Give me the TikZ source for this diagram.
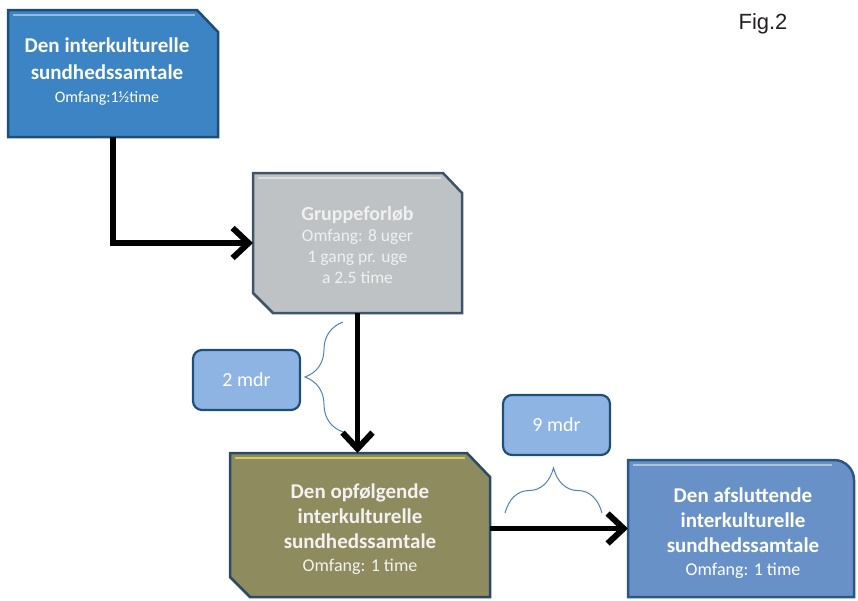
\documentclass[tikz,border=0pt]{standalone}
\usepackage{fontspec}
\setmainfont{Carlito}
\newfontfamily\figfont{Liberation Sans}
\usetikzlibrary{arrows.meta,decorations.pathreplacing}
\definecolor{cAfill}{HTML}{3C84C4}
\definecolor{cAedge}{HTML}{1E4D78}
\definecolor{cBfill}{HTML}{BEC2C4}
\definecolor{cBedge}{HTML}{3D5566}
\definecolor{cCfill}{HTML}{8E8B5E}
\definecolor{cCedge}{HTML}{2C4A66}
\definecolor{cDfill}{HTML}{6892C7}
\definecolor{cDedge}{HTML}{2B5686}
\definecolor{mfill}{HTML}{8DB4E2}
\definecolor{medge}{HTML}{1F4E79}
\definecolor{bracecol}{HTML}{4F81BD}
\definecolor{figcol}{HTML}{231F20}
\newcommand{\smlA}{\fontsize{16}{18}\selectfont\mdseries}
\newcommand{\smlB}{\fontsize{17.5}{21}\selectfont\mdseries}
\newcommand{\smlC}{\fontsize{18}{21}\selectfont\mdseries}
\begin{document}
\begin{tikzpicture}[x=1pt,y=-1pt,
  boxnode/.style={inner sep=0pt, outer sep=0pt, minimum width=#1},
  edge/.style={line width=2.5pt, line join=miter},
  hl/.style={white, opacity=0.45, line width=1.5pt},
  txt/.style={align=center, inner sep=0pt},
  arr/.style={line width=5.5pt, -{Straight Barb[length=16pt, width=30pt, line width=6pt]}},
  bracestyle/.style={bracecol, line width=1pt, decorate, decoration={brace, amplitude=#1}},
  mbox/.style={rounded corners=9pt, fill=mfill, draw=medge, line width=2.2pt, minimum width=107pt, minimum height=60pt, inner sep=0pt, text=white, font=\fontsize{20}{24}\selectfont}
]
\useasboundingbox (0,0) rectangle (858,600);

% box 1
\fill[cAfill] (8,10) -- (197,10) -- (218,32) -- (218,137) -- (8,137) -- cycle;
\draw[hl] (13,15) -- (195,15);
\draw[cAedge, edge] (8,10) -- (197,10) -- (218,32) -- (218,137) -- (8,137) -- cycle;
\node[boxnode=210pt, minimum height=127pt] (b1) at (113,73.5) {};
\node[txt, text=white, font=\fontsize{21}{27}\selectfont\bfseries] (t1) at (107,72) {Den interkulturelle\\ sundhedssamtale\\[-4pt] \smlA Omfang:1½time};

% box 2
\fill[cBfill] (253,173) -- (443,173) -- (462,193) -- (462,313) -- (273,313) -- (253,293) -- cycle;
\draw[hl] (258,178) -- (441,178);
\draw[cBedge, edge] (253,173) -- (443,173) -- (462,193) -- (462,313) -- (273,313) -- (253,293) -- cycle;
\node[boxnode=209pt, minimum height=140pt] (b2) at (357.5,243) {};
\node[txt, text=white!94!black, font=\fontsize{20}{21}\selectfont\bfseries] (t2) at (357.5,245) {Gruppeforløb\\ \smlB Omfang: 8 uger\\ \smlB 1 gang pr. uge\\ \smlB a 2.5 time};

% box 3
\fill[cCfill] (230,453) -- (467,453) -- (490,477) -- (490,597) -- (250,597) -- (230,577) -- cycle;
\draw[yellow!60!white, opacity=0.6, line width=1.5pt] (235,458) -- (465,458);
\draw[cCedge, edge] (230,453) -- (467,453) -- (490,477) -- (490,597) -- (250,597) -- (230,577) -- cycle;
\node[boxnode=260pt, minimum height=144pt] (b3) at (360,525) {};
\node[txt, text=white!95!black, font=\fontsize{21}{25}\selectfont\bfseries] (t3) at (360,529) {Den opfølgende\\ interkulturelle\\ sundhedssamtale\\[-2pt] \smlC Omfang: 1 time};

% box 4
\fill[cDfill] (628,460) -- (834,460) .. controls (845,460) and (854,469) .. (854,480) -- (854,597) -- (628,597) -- cycle;
\draw[hl] (633,465) -- (832,465);
\draw[cDedge, edge] (628,460) -- (834,460) .. controls (845,460) and (854,469) .. (854,480) -- (854,597) -- (628,597) -- cycle;
\node[boxnode=226pt, minimum height=137pt] (b4) at (741,528.5) {};
\node[txt, text=white, font=\fontsize{21}{25}\selectfont\bfseries] (t4) at (743,533) {Den afsluttende\\ interkulturelle\\ sundhedssamtale\\[-2pt] \smlC Omfang: 1 time};

% connectors
\draw[arr] (b1.south) |- (b2.west);
\draw[arr] (b2.south) -- (b2.south |- b3.north);
\draw[arr] (b4.west -| b3.east) -- (b4.west);

% month boxes
\node[mbox] (m2) at (246.5,380) {2 mdr};
\node[mbox] (m9) at (556.5,425) {9 mdr};

% braces
\coordinate (br1a) at (343,432);
\coordinate (br1b) at (343,322);
\coordinate (br2a) at (505,513);
\coordinate (br2b) at (602,513);
\draw[bracestyle=38pt] (br1a) -- (br1b);
\draw[bracestyle=45pt] (br2a) -- (br2b);

% figure label
\node[inner sep=0pt, text=figcol, font=\figfont\fontsize{22}{26}\selectfont] (fig) at (763,24) {Fig.2};
\end{tikzpicture}
\end{document}
